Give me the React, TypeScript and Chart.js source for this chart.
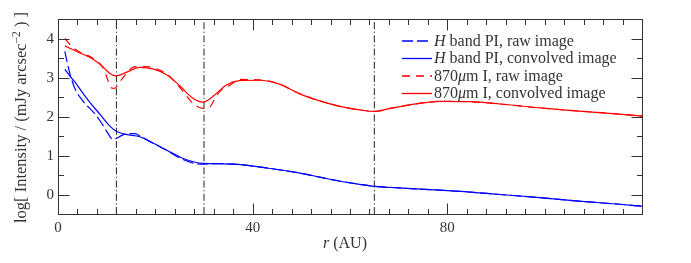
import React, { useEffect, useRef } from "react";
import { Chart, registerables } from "chart.js";

Chart.register(...registerables);

// ---------- data ----------
const hRawR = [1.4, 2.4, 3.4, 5.1, 7.5, 8.9, 10.3, 11.2, 12.2, 13.0, 14.5, 15.8, 16.8, 19.5, 22.3, 25.6, 28.4, 30.0, 33.0, 36.0, 39.4, 44.0, 49.7, 54.0, 58.0, 62.0, 65.0, 70.0, 74.4, 82.6, 90.8, 99.0, 107.0, 115.4, 120.0];
const hRawV = [3.67, 3.12, 2.74, 2.4, 2.08, 1.84, 1.56, 1.42, 1.45, 1.51, 1.56, 1.56, 1.5, 1.32, 1.13, 0.9, 0.79, 0.78, 0.79, 0.78, 0.74, 0.66, 0.55, 0.44, 0.34, 0.26, 0.21, 0.17, 0.14, 0.08, 0.0, -0.08, -0.17, -0.25, -0.3];

const hConvR = [1.4, 2.5, 3.8, 5.0, 6.5, 8.6, 10.6, 12.0, 14.0, 16.8, 19.5, 22.3, 25.6, 28.4, 30.0, 33.0, 36.0, 39.4, 44.0, 49.7, 54.0, 58.0, 62.0, 65.0, 70.0, 74.4, 82.6, 90.8, 99.0, 107.0, 115.4, 120.0];
const hConvV = [3.21, 3.03, 2.83, 2.62, 2.37, 2.06, 1.76, 1.62, 1.54, 1.48, 1.32, 1.14, 0.93, 0.82, 0.8, 0.79, 0.78, 0.74, 0.66, 0.55, 0.44, 0.34, 0.26, 0.21, 0.17, 0.14, 0.08, 0.0, -0.08, -0.17, -0.25, -0.3];

const mmRawR = [1.4, 2.8, 4.5, 7.2, 9.3, 10.2, 11.0, 11.6, 12.4, 13.0, 14.4, 15.2, 16.8, 19.5, 22.3, 25.0, 27.7, 29.8, 31.2, 31.9, 33.2, 35.3, 37.3, 41.4, 45.5, 49.7, 53.8, 57.9, 62.0, 65.0, 68.0, 72.3, 78.4, 84.6, 90.8, 99.0, 107.0, 115.4, 120.0];
const mmRawV = [4.0, 3.8, 3.65, 3.49, 3.24, 2.95, 2.73, 2.72, 2.82, 2.94, 3.15, 3.25, 3.29, 3.25, 3.1, 2.75, 2.34, 2.21, 2.24, 2.38, 2.64, 2.8, 2.95, 2.94, 2.83, 2.58, 2.4, 2.26, 2.17, 2.13, 2.2, 2.3, 2.39, 2.38, 2.32, 2.22, 2.14, 2.06, 2.01];

const mmConvR = [1.4, 4.5, 7.2, 9.2, 10.6, 12.0, 14.0, 16.8, 19.5, 22.3, 25.0, 27.7, 29.8, 31.8, 34.6, 37.3, 41.4, 45.5, 49.7, 53.8, 57.9, 62.0, 65.0, 68.0, 72.3, 78.4, 84.6, 90.8, 99.0, 107.0, 115.4, 120.0];
const mmConvV = [3.81, 3.63, 3.47, 3.28, 3.11, 3.04, 3.13, 3.26, 3.22, 3.07, 2.79, 2.47, 2.37, 2.51, 2.81, 2.92, 2.93, 2.83, 2.58, 2.4, 2.26, 2.17, 2.13, 2.2, 2.3, 2.39, 2.38, 2.32, 2.22, 2.14, 2.06, 2.01];

const gapRadii = [12, 30, 65];

const xTickLabels = [0, 40, 80];
const xMajorTicks = [0, 40, 80, 120];
const xMinorStep = 4;
const yTickLabels = [0, 1, 2, 3, 4];
const yMinorTicks = [-0.5, 0.5, 1.5, 2.5, 3.5, 4.5];

const X_MIN = 0, X_MAX = 120, Y_MIN = -0.5, Y_MAX = 4.5;

const legendItems = [
  { color: "#0000ff", dash: [11, 4], parts: [["H", true], [" band PI, raw image", false]] },
  { color: "#0000ff", dash: [], parts: [["H", true], [" band PI, convolved image", false]] },
  { color: "#ff0000", dash: [8, 6], parts: [["870", false], ["\u03bc", true], ["m I, raw image", false]] },
  { color: "#ff0000", dash: [], parts: [["870", false], ["\u03bc", true], ["m I, convolved image", false]] },
];

const pts = (r: number[], v: number[]) => r.map((x, i) => ({ x, y: v[i] }));

const FONT = "'Liberation Serif', 'DejaVu Serif', serif";
const TXT = "#333";

const decorPlugin = {
  id: "decor",
  afterDatasetsDraw(chart: any) {
    const { ctx, chartArea: a, scales } = chart;
    const xs = scales.x, ys = scales.y;
    ctx.save();
    // frame
    ctx.strokeStyle = "#333";
    ctx.lineWidth = 1;
    ctx.setLineDash([]);
    ctx.strokeRect(Math.round(a.left) + 0.5, Math.round(a.top) + 0.5, Math.round(a.right - a.left), Math.round(a.bottom - a.top));
    const L = Math.round(a.left) + 0.5, R = Math.round(a.right) + 0.5, T = Math.round(a.top) + 0.5, B = Math.round(a.bottom) + 0.5;
    const major = 11, minor = 5.5;
    ctx.beginPath();
    for (let v = X_MIN; v <= X_MAX; v += xMinorStep) {
      const px = Math.round(xs.getPixelForValue(v)) + 0.5;
      const len = xMajorTicks.includes(v) ? major : minor;
      ctx.moveTo(px, B); ctx.lineTo(px, B - len);
      ctx.moveTo(px, T); ctx.lineTo(px, T + len);
    }
    const yAll = [...yTickLabels.map((v) => [v, major]), ...yMinorTicks.map((v) => [v, minor])];
    for (const [v, len] of yAll) {
      const py = Math.round(ys.getPixelForValue(v)) + 0.5;
      ctx.moveTo(L, py); ctx.lineTo(L + len, py);
      ctx.moveTo(R, py); ctx.lineTo(R - len, py);
    }
    ctx.stroke();

    // tick labels
    ctx.fillStyle = TXT;
    ctx.font = `15px ${FONT}`;
    ctx.textBaseline = "middle";
    ctx.textAlign = "right";
    for (const v of yTickLabels) ctx.fillText(String(v), a.left - 4, ys.getPixelForValue(v) + 0.5);
    ctx.textAlign = "center";
    for (const v of xTickLabels) ctx.fillText(String(v), xs.getPixelForValue(v), a.bottom + 14);

    // x title
    const cx = (a.left + a.right) / 2 - 5;
    ctx.textAlign = "left";
    ctx.font = `italic 16px ${FONT}`;
    const wr = ctx.measureText("r").width;
    ctx.font = `16px ${FONT}`;
    const wau = ctx.measureText(" (AU)").width;
    const x0 = cx - (wr + wau) / 2;
    ctx.font = `italic 16px ${FONT}`;
    ctx.fillText("r", x0, a.bottom + 30);
    ctx.font = `16px ${FONT}`;
    ctx.fillText(" (AU)", x0 + wr, a.bottom + 30);

    // y title
    ctx.save();
    ctx.translate(22, (a.top + a.bottom) / 2 + 1);
    ctx.rotate(-Math.PI / 2);
    const p1 = "log[ Intensity / (mJy arcsec", sup = "\u22122", p2 = " ) ]";
    ctx.font = `16.5px ${FONT}`;
    const w1 = ctx.measureText(p1).width, w2 = ctx.measureText(p2).width;
    ctx.font = `11.5px ${FONT}`;
    const ws = ctx.measureText(sup).width;
    const sx = -(w1 + ws + w2) / 2;
    ctx.textAlign = "left";
    ctx.font = `16.5px ${FONT}`;
    ctx.fillText(p1, sx, 0);
    ctx.font = `11.5px ${FONT}`;
    ctx.fillText(sup, sx + w1, -5.5);
    ctx.font = `16.5px ${FONT}`;
    ctx.fillText(p2, sx + w1 + ws, 0);
    ctx.restore();

    // legend
    const lx0 = 402, lx1 = 432, tx = 434;
    const rows = [41, 58.5, 76, 93.5];
    legendItems.forEach((it, i) => {
      const y = rows[i];
      ctx.strokeStyle = it.color;
      ctx.lineWidth = 1.3;
      ctx.setLineDash(it.dash);
      ctx.beginPath();
      ctx.moveTo(lx0, y); ctx.lineTo(lx1, y);
      ctx.stroke();
      ctx.setLineDash([]);
      let x = tx;
      ctx.fillStyle = TXT;
      ctx.textAlign = "left";
      for (const [t, ital] of it.parts as [string, boolean][]) {
        ctx.font = `${ital ? "italic " : ""}16px ${FONT}`;
        ctx.fillText(t, x, y + 0.5);
        x += ctx.measureText(t).width;
      }
    });
    ctx.restore();
  },
};

export default function App() {
  const ref = useRef<HTMLCanvasElement | null>(null);
  useEffect(() => {
    if (!ref.current) return;
    const line = (data: any, color: string, dash: number[]) => ({
      data,
      borderColor: color,
      borderWidth: 1.2,
      borderDash: dash,
      pointRadius: 0,
      fill: false,
      cubicInterpolationMode: "monotone" as const,
    });
    const vlineSets = gapRadii.map((r) => ({
      data: [{ x: r, y: Y_MIN }, { x: r, y: Y_MAX }],
      borderColor: "#222",
      borderWidth: 1,
      borderDash: [7, 2.5, 1.2, 2.5],
      pointRadius: 0,
      fill: false,
    }));
    const chart = new Chart(ref.current, {
      type: "line",
      data: {
        datasets: [
          line(pts(mmConvR, mmConvV), "#ff0000", []),
          line(pts(mmRawR, mmRawV), "#ff0000", [8, 6]),
          line(pts(hConvR, hConvV), "#0000ff", []),
          line(pts(hRawR, hRawV), "#0000ff", [11, 4]),
          ...vlineSets,
        ] as any,
      },
      options: {
        animation: false,
        responsive: false,
        devicePixelRatio: 1,
        layout: { padding: { left: 58, right: 49, top: 19, bottom: 49 } },
        scales: {
          x: { type: "linear", min: X_MIN, max: X_MAX, display: false },
          y: { type: "linear", min: Y_MIN, max: Y_MAX, display: false },
        },
        plugins: { legend: { display: false }, tooltip: { enabled: false } },
      },
      plugins: [decorPlugin],
    });
    return () => chart.destroy();
  }, []);
  return (
    <div style={{ position: "absolute", left: 0, top: 0, width: 691, height: 263, background: "#fff" }}>
      <canvas ref={ref} width={691} height={263} style={{ display: "block" }} />
    </div>
  );
}
